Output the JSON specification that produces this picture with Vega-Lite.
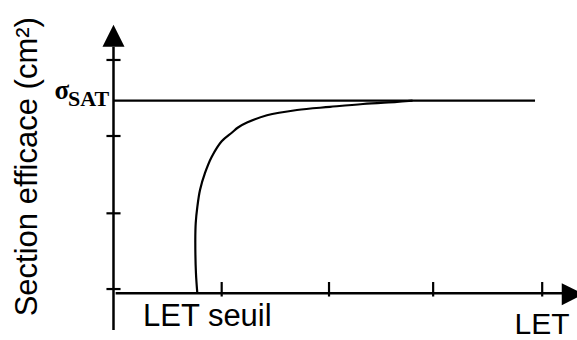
{
  "$schema": "https://vega.github.io/schema/vega-lite/v6.json",
  "width": 577,
  "height": 340,
  "padding": 0,
  "autosize": {"type": "none"},
  "background": "white",
  "config": {"view": {"stroke": null}},
  "datasets": {
    "axes": [
      {"x": 0, "x2": 0, "y": -0.48, "y2": 3.228},
      {"x": 0.02, "x2": 4.2, "y": 0, "y2": 0}
    ],
    "ticks": [
      {"x": -0.066, "x2": 0.066, "y": 3.054, "y2": 3.054},
      {"x": -0.066, "x2": 0.066, "y": 2.059, "y2": 2.059},
      {"x": -0.066, "x2": 0.066, "y": 1.047, "y2": 1.047},
      {"x": -0.066, "x2": 0.066, "y": 0.056, "y2": 0.056},
      {"x": 1.013, "x2": 1.013, "y": 0.148, "y2": -0.042},
      {"x": 2.018, "x2": 2.018, "y": 0.148, "y2": -0.042},
      {"x": 2.993, "x2": 2.993, "y": 0.148, "y2": -0.042},
      {"x": 4.014, "x2": 4.014, "y": 0.148, "y2": -0.042},
      {"x": 0, "x2": 3.947, "y": 2.521, "y2": 2.521}
    ],
    "arrows": [
      {"x": 0, "y": 3.370, "dir": "up"},
      {"x": 4.300, "y": -0.012, "dir": "right"}
    ],
    "curve": [
      {"i": 0, "x": 0.785, "y": 0},
      {"i": 1, "x": 0.772, "y": 0.266},
      {"i": 2, "x": 0.766, "y": 0.698},
      {"i": 3, "x": 0.770, "y": 0.920},
      {"i": 4, "x": 0.785, "y": 1.130},
      {"i": 5, "x": 0.810, "y": 1.352},
      {"i": 6, "x": 0.857, "y": 1.575},
      {"i": 7, "x": 0.919, "y": 1.784},
      {"i": 8, "x": 1.013, "y": 1.990},
      {"i": 9, "x": 1.110, "y": 2.105},
      {"i": 10, "x": 1.166, "y": 2.170},
      {"i": 11, "x": 1.250, "y": 2.235},
      {"i": 12, "x": 1.437, "y": 2.330},
      {"i": 13, "x": 1.718, "y": 2.399},
      {"i": 14, "x": 2.027, "y": 2.440},
      {"i": 15, "x": 2.336, "y": 2.478},
      {"i": 16, "x": 2.654, "y": 2.506},
      {"i": 17, "x": 2.800, "y": 2.521}
    ],
    "title": [{"x": -0.719, "y": 1.657, "label": "Section efficace (cm²)"}],
    "labels": [
      {"x": 0.276, "y": -0.428, "label": "LET seuil"}
    ],
    "let": [
      {"x": 3.755, "y": -0.530, "label": "LET"}
    ],
    "sigma": [{"x": -0.552, "y": 2.543, "label": "σ"}],
    "sat": [{"x": -0.426, "y": 2.452, "label": "SAT"}]
  },
  "encoding": {
    "x": {"field": "x", "type": "quantitative", "axis": null, "scale": {"domain": [-1.0627, 4.3399], "nice": false, "zero": false}},
    "y": {"field": "y", "type": "quantitative", "axis": null, "scale": {"domain": [-0.611, 3.839], "nice": false, "zero": false}}
  },
  "layer": [
    {
      "data": {"name": "axes"},
      "mark": {"type": "rule", "color": "black", "strokeWidth": 2.5},
      "encoding": {"x2": {"field": "x2"}, "y2": {"field": "y2"}}
    },
    {
      "data": {"name": "ticks"},
      "mark": {"type": "rule", "color": "black", "strokeWidth": 2.2},
      "encoding": {"x2": {"field": "x2"}, "y2": {"field": "y2"}}
    },
    {
      "data": {"name": "curve"},
      "mark": {"type": "line", "color": "black", "strokeWidth": 2.2, "interpolate": "catmull-rom"},
      "encoding": {"order": {"field": "i", "type": "quantitative"}}
    },
    {
      "data": {"name": "arrows"},
      "mark": {"type": "point", "filled": true, "color": "black", "opacity": 1, "size": 484, "strokeWidth": 0},
      "encoding": {
        "shape": {"field": "dir", "type": "nominal", "legend": null, "scale": {"domain": ["up", "right"], "range": ["M0,-1L1,1L-1,1Z", "M-1,-1L1,0L-1,1Z"]}}
      }
    },
    {
      "data": {"name": "title"},
      "mark": {"type": "text", "angle": 270, "align": "center", "baseline": "alphabetic", "font": "Liberation Sans", "fontSize": 31, "color": "black"},
      "encoding": {"text": {"field": "label"}}
    },
    {
      "data": {"name": "labels"},
      "mark": {"type": "text", "align": "left", "baseline": "alphabetic", "font": "Liberation Sans", "fontSize": 31, "color": "black"},
      "encoding": {"text": {"field": "label"}}
    },
    {
      "data": {"name": "let"},
      "mark": {"type": "text", "align": "left", "baseline": "alphabetic", "font": "Liberation Sans", "fontSize": 30, "color": "black"},
      "encoding": {"text": {"field": "label"}}
    },
    {
      "data": {"name": "sigma"},
      "mark": {"type": "text", "align": "left", "baseline": "alphabetic", "font": "Liberation Serif", "fontWeight": "bold", "fontSize": 27, "color": "black"},
      "encoding": {"text": {"field": "label"}}
    },
    {
      "data": {"name": "sat"},
      "mark": {"type": "text", "align": "left", "baseline": "alphabetic", "font": "Liberation Serif", "fontWeight": "bold", "fontSize": 22, "color": "black"},
      "encoding": {"text": {"field": "label"}}
    }
  ]
}
